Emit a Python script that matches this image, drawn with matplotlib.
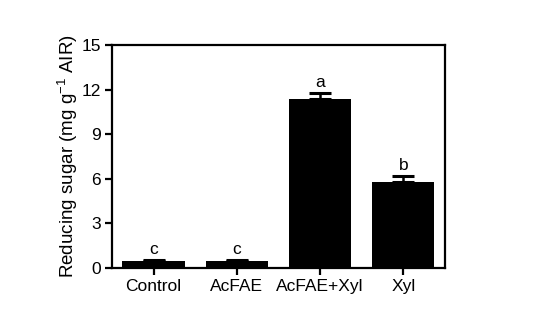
import numpy as np
import matplotlib.pyplot as plt

plt.rcParams['font.family'] = ['Liberation Sans', 'DejaVu Sans']
plt.rcParams['mathtext.default'] = 'regular'

groups = ['Control', 'AcFAE', 'AcFAE+Xyl', 'Xyl']
sugar = [0.48, 0.5, 11.4, 5.8]
sugar_err = [0.06, 0.06, 0.35, 0.38]
letters = ['c', 'c', 'a', 'b']

fig = plt.figure(figsize=(5.36, 3.26), dpi=100)
ax = fig.add_axes([0.209, 0.178, 0.621, 0.684])

x = np.arange(len(groups))
ax.bar(x, sugar, width=0.75, color='black', zorder=2)
ax.errorbar(x, sugar, yerr=[np.zeros(len(x)), sugar_err], fmt='none',
            ecolor='black', elinewidth=1.8, capsize=8, capthick=2.2, zorder=1)
for xi, v, e, l in zip(x, sugar, sugar_err, letters):
    ax.text(xi, v + e + 0.2, l, ha='center', va='bottom', fontsize=12.5)

ax.set_xlim(-0.5, 3.5)
ax.set_ylim(0, 15)
ax.set_yticks([0, 3, 6, 9, 12, 15])
ax.set_xticks(x)
ax.set_xticklabels(groups)
ax.set_ylabel('Reducing sugar (mg g$^{-1}$ AIR)', fontsize=13.5, labelpad=1)
for s in ax.spines.values():
    s.set_linewidth(1.6)
ax.tick_params(direction='out', length=5, width=1.6, labelsize=12.5, pad=3)

fig.savefig('out.png', dpi=100)
